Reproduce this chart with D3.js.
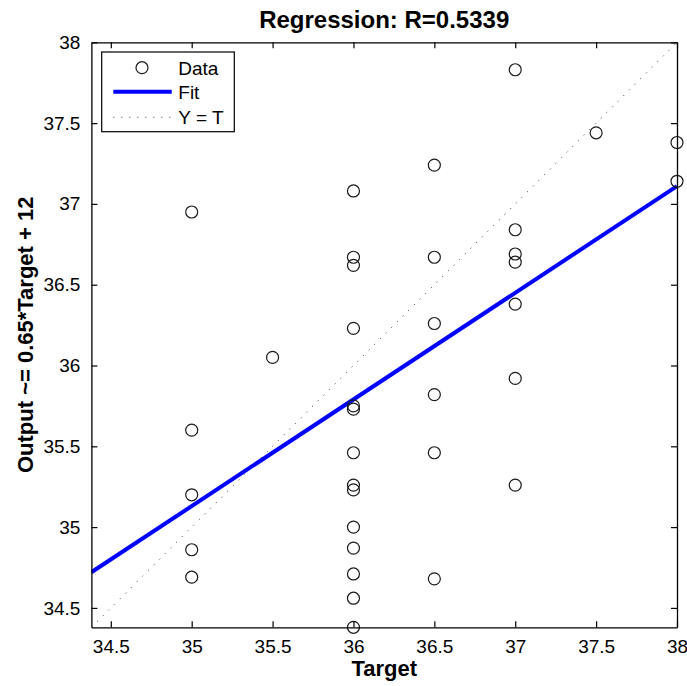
<!DOCTYPE html>
<html>
<head>
<meta charset="utf-8">
<script src="https://cdn.jsdelivr.net/npm/d3@7"></script>
<style>
  body { margin: 0; background: #fff; }
  svg { display: block; font-family: "Liberation Sans", Arial, sans-serif; }
</style>
</head>
<body>
<div class="chart"></div>
<script>
// Targets and network outputs
var targets = [35, 35, 35, 35, 35,
	35.5,
	36, 36, 36, 36, 36, 36, 36, 36, 36, 36, 36, 36, 36, 36,
	36.5, 36.5, 36.5, 36.5, 36.5, 36.5,
	37, 37, 37, 37, 37, 37, 37,
	37.5,
	38, 38];
var outputs = [36.95, 35.60, 35.20, 34.86, 34.69,
	36.05,
	37.08, 36.67, 36.62, 36.23, 35.75, 35.73, 35.46, 35.26, 35.23, 35.00, 34.87, 34.71, 34.56, 34.38,
	37.24, 36.67, 36.26, 35.82, 35.46, 34.68,
	37.83, 36.84, 36.69, 36.64, 36.38, 35.92, 35.26,
	37.44,
	37.38, 37.14];

var tickValues = [34.5, 35, 35.5, 36, 36.5, 37, 37.5, 38];

// fitted line (as drawn)
var fitSlope = 0.66, fitIntercept = 12.03;

var titleText = "Regression: R=0.5339";
var xLabel = "Target";
var yLabel = "Output ~= 0.65*Target + 12";
var legendNames = ["Data", "Fit", "Y = T"];

var margin = { top: 42.3, left: 91.4 };
var width = 585.6, height = 585;

var lo = Math.min(d3.min(targets), d3.min(outputs));
var hi = Math.max(d3.max(targets), d3.max(outputs));

var xScale = d3.scaleLinear().domain([lo, hi]).range([0, width]);
var yScale = d3.scaleLinear().domain([lo, hi]).range([height, 0]);

var svg = d3.select(".chart").append("svg")
	.attr("width", 687)
	.attr("height", 686);

var g = svg.append("g")
	.attr("transform", "translate(" + margin.left + "," + margin.top + ")");

svg.append("defs").append("clipPath").attr("id", "clip")
	.append("rect").attr("width", width).attr("height", height);

// Y = T dotted line
g.append("line")
	.attr("clip-path", "url(#clip)")
	.attr("x1", xScale(lo)).attr("y1", yScale(lo))
	.attr("x2", xScale(hi)).attr("y2", yScale(hi))
	.attr("stroke", "#333")
	.attr("stroke-width", 1)
	.attr("stroke-dasharray", "1,7");

// Fit line
g.append("line")
	.attr("clip-path", "url(#clip)")
	.attr("x1", xScale(lo)).attr("y1", yScale(fitSlope * lo + fitIntercept))
	.attr("x2", xScale(hi)).attr("y2", yScale(fitSlope * hi + fitIntercept))
	.attr("stroke", "#0000ff")
	.attr("stroke-width", 4);

// Data circles
g.selectAll("circle.pt")
	.data(targets)
	.enter()
	.append("circle")
	.attr("class", "pt")
	.attr("cx", function(d){ return xScale(d); })
	.attr("cy", function(d, i){ return yScale(outputs[i]); })
	.attr("r", 6)
	.attr("fill", "none")
	.attr("stroke", "#1a1a1a")
	.attr("stroke-width", 1.2);

// Axes with inside ticks on all four sides
var tickLen = 6;
var xAxisB = d3.axisBottom(xScale).tickValues(tickValues).tickSizeInner(-tickLen).tickSizeOuter(0).tickPadding(12).tickFormat(d3.format("~g"));
var xAxisT = d3.axisTop(xScale).tickValues(tickValues).tickSizeInner(-tickLen).tickSizeOuter(0).tickFormat("");
var yAxisL = d3.axisLeft(yScale).tickValues(tickValues).tickSizeInner(-tickLen).tickSizeOuter(0).tickPadding(11).tickFormat(d3.format("~g"));
var yAxisR = d3.axisRight(yScale).tickValues(tickValues).tickSizeInner(-tickLen).tickSizeOuter(0).tickFormat("");

var axes = [
	g.append("g").attr("transform", "translate(0," + height + ")").call(xAxisB),
	g.append("g").call(xAxisT),
	g.append("g").call(yAxisL),
	g.append("g").attr("transform", "translate(" + width + ",0)").call(yAxisR)
];
axes.forEach(function(a){
	a.selectAll("path.domain").attr("stroke", "#000").attr("stroke-width", 1.3);
	a.selectAll(".tick line").attr("stroke", "#000").attr("stroke-width", 1.2);
	a.selectAll(".tick text").attr("fill", "#000").style("font-size", "19px");
	a.attr("font-family", null);
});

// Title and axis labels
svg.append("text")
	.attr("x", margin.left + width / 2)
	.attr("y", 28)
	.attr("text-anchor", "middle")
	.style("font-weight", "bold")
	.style("font-size", "24px")
	.text(titleText);

svg.append("text")
	.attr("x", margin.left + width / 2)
	.attr("y", 676)
	.attr("text-anchor", "middle")
	.style("font-weight", "bold")
	.style("font-size", "22px")
	.text(xLabel);

svg.append("text")
	.attr("transform", "translate(33," + (margin.top + height / 2) + ") rotate(-90)")
	.attr("text-anchor", "middle")
	.style("font-weight", "bold")
	.style("font-size", "22px")
	.text(yLabel);

// Legend
var legend = svg.append("g").attr("transform", "translate(101.7,52)");
legend.append("rect")
	.attr("width", 132.6).attr("height", 79.7)
	.attr("fill", "#fff").attr("stroke", "#000").attr("stroke-width", 1.2);

var rowY = [15.7, 39.7, 65.3];
legend.append("circle")
	.attr("cx", 40.3).attr("cy", rowY[0]).attr("r", 6)
	.attr("fill", "none").attr("stroke", "#1a1a1a").attr("stroke-width", 1.2);
legend.append("line")
	.attr("x1", 11.6).attr("x2", 70).attr("y1", rowY[1]).attr("y2", rowY[1])
	.attr("stroke", "#0000ff").attr("stroke-width", 4);
legend.append("line")
	.attr("x1", 11.6).attr("x2", 70).attr("y1", rowY[2]).attr("y2", rowY[2])
	.attr("stroke", "#333").attr("stroke-width", 1).attr("stroke-dasharray", "1,7");

legend.selectAll("text.lab")
	.data(legendNames)
	.enter()
	.append("text")
	.attr("class", "lab")
	.attr("x", 76.6)
	.attr("y", function(d, i){ return rowY[i]; })
	.attr("dy", "0.36em")
	.style("font-size", "19px")
	.text(function(d){ return d; });
</script>
</body>
</html>
